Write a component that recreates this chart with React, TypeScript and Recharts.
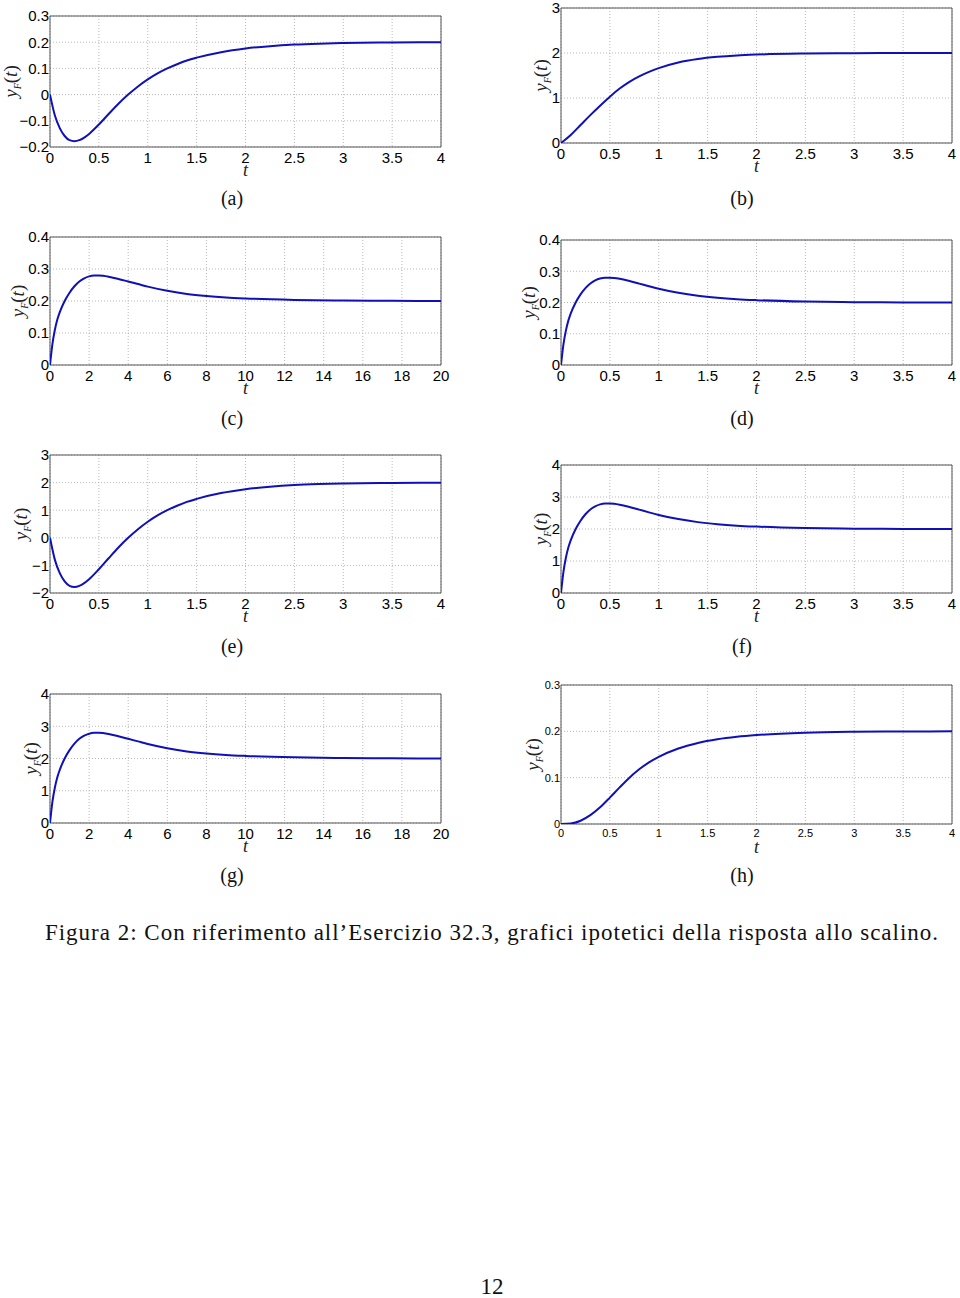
import React from "react"
import { LineChart, Line, XAxis, YAxis, CartesianGrid, ReferenceArea } from "recharts"

// time samples + read-off values for each panel
const tFast = [0, 0.05, 0.1, 0.15, 0.2, 0.25, 0.3, 0.35, 0.4, 0.5, 0.6, 0.7, 0.8, 0.9, 1, 1.1, 1.2, 1.3, 1.4, 1.5, 1.75, 2, 2.25, 2.5, 2.75, 3, 3.5, 4]
const yA = [0, -0.08, -0.128, -0.158, -0.174, -0.178, -0.174, -0.164, -0.15, -0.114, -0.074, -0.035, 0.0, 0.031, 0.058, 0.081, 0.1, 0.116, 0.13, 0.141, 0.162, 0.176, 0.185, 0.191, 0.1945, 0.1966, 0.1988, 0.1996]
const yE = [0, -0.8, -1.28, -1.58, -1.74, -1.78, -1.74, -1.64, -1.5, -1.14, -0.74, -0.35, 0.0, 0.31, 0.58, 0.81, 1.0, 1.16, 1.3, 1.41, 1.62, 1.76, 1.85, 1.91, 1.945, 1.966, 1.988, 1.996]

const tSlow = [0, 0.1, 0.2, 0.3, 0.4, 0.5, 0.6, 0.7, 0.8, 0.9, 1, 1.2, 1.4, 1.6, 1.8, 2, 2.5, 3, 3.5, 4]
const yB = [0, 0.18, 0.4, 0.62, 0.83, 1.03, 1.21, 1.36, 1.48, 1.58, 1.665, 1.79, 1.867, 1.915, 1.946, 1.965, 1.988, 1.996, 1.999, 2.0]
const yH = [0, 0.001, 0.007, 0.019, 0.036, 0.057, 0.079, 0.1, 0.118, 0.133, 0.145, 0.163, 0.175, 0.183, 0.1883, 0.192, 0.197, 0.199, 0.1997, 0.2]

const tPeak = [0, 0.025, 0.05, 0.075, 0.1, 0.15, 0.2, 0.25, 0.3, 0.35, 0.4, 0.45, 0.5, 0.6, 0.7, 0.8, 0.9, 1, 1.2, 1.4, 1.6, 1.8, 2, 2.5, 3, 3.5, 4]
const yD = [0, 0.066, 0.11, 0.142, 0.165, 0.2, 0.226, 0.246, 0.261, 0.271, 0.277, 0.2795, 0.2795, 0.276, 0.269, 0.2605, 0.252, 0.244, 0.231, 0.2215, 0.215, 0.2105, 0.2075, 0.203, 0.201, 0.2003, 0.2]
const yF = [0, 0.66, 1.1, 1.42, 1.65, 2.0, 2.26, 2.46, 2.61, 2.71, 2.77, 2.795, 2.795, 2.76, 2.69, 2.605, 2.52, 2.44, 2.31, 2.215, 2.15, 2.105, 2.075, 2.03, 2.01, 2.003, 2.0]

const tLong = [0, 0.125, 0.25, 0.375, 0.5, 0.75, 1, 1.25, 1.5, 1.75, 2, 2.25, 2.5, 3, 3.5, 4, 4.5, 5, 6, 7, 8, 9, 10, 12.5, 15, 17.5, 20]
const yC = [0, 0.066, 0.11, 0.142, 0.165, 0.2, 0.226, 0.246, 0.261, 0.271, 0.277, 0.2795, 0.2795, 0.276, 0.269, 0.261, 0.253, 0.245, 0.232, 0.222, 0.2155, 0.211, 0.208, 0.2035, 0.2012, 0.2004, 0.2]
const yG = [0, 0.66, 1.1, 1.42, 1.65, 2.0, 2.26, 2.46, 2.61, 2.71, 2.77, 2.795, 2.795, 2.76, 2.69, 2.61, 2.53, 2.45, 2.32, 2.22, 2.155, 2.11, 2.08, 2.035, 2.012, 2.004, 2.0]

const xTicks4 = [0, 0.5, 1, 1.5, 2, 2.5, 3, 3.5, 4]
const xTicks20 = [0, 2, 4, 6, 8, 10, 12, 14, 16, 18, 20]
const yTicksA = [-0.2, -0.1, 0, 0.1, 0.2, 0.3]
const yTicksB = [0, 1, 2, 3]
const yTicksC = [0, 0.1, 0.2, 0.3, 0.4]
const yTicksE = [-2, -1, 0, 1, 2, 3]
const yTicksF = [0, 1, 2, 3, 4]
const yTicksH = [0, 0.1, 0.2, 0.3]

const zip = (t: number[], y: number[]) => t.map((v, i) => ({ t: v, y: y[i] }))

const SANS = "'Liberation Sans', Arial, sans-serif"
const SERIF = "'Liberation Serif', 'DejaVu Serif', serif"
const BLUE = "#1010b8"

const fmt = (v: number) => (v < 0 ? "\u2212" + Math.abs(v) : String(v))

const panels = [
  { id: "a", data: zip(tFast, yA), xTicks: xTicks4, yTicks: yTicksA, left: 50, top: 16, w: 391, h: 131, lab: 40, fs: 15 },
  { id: "b", data: zip(tSlow, yB), xTicks: xTicks4, yTicks: yTicksB, left: 561, top: 8, w: 391, h: 135, lab: 21, fs: 15 },
  { id: "c", data: zip(tLong, yC), xTicks: xTicks20, yTicks: yTicksC, left: 50, top: 237, w: 391, h: 128, lab: 33, fs: 15 },
  { id: "d", data: zip(tPeak, yD), xTicks: xTicks4, yTicks: yTicksC, left: 561, top: 240, w: 391, h: 125, lab: 33, fs: 15 },
  { id: "e", data: zip(tFast, yE), xTicks: xTicks4, yTicks: yTicksE, left: 50, top: 455, w: 391, h: 138, lab: 30, fs: 15 },
  { id: "f", data: zip(tPeak, yF), xTicks: xTicks4, yTicks: yTicksF, left: 561, top: 465, w: 391, h: 128, lab: 21, fs: 15 },
  { id: "g", data: zip(tLong, yG), xTicks: xTicks20, yTicks: yTicksF, left: 50, top: 694, w: 391, h: 129, lab: 20, fs: 15 },
  { id: "h", data: zip(tSlow, yH), xTicks: xTicks4, yTicks: yTicksH, left: 561, top: 685, w: 391, h: 139, lab: 29, fs: 11 },
]

const captionRows = [198, 418, 646, 875]

function YLab({ viewBox, off }: any) {
  const cx = viewBox.x + viewBox.width - off
  const cy = viewBox.y + viewBox.height / 2
  return (
    <text transform={`translate(${cx},${cy}) rotate(-90)`} textAnchor="middle" dy="0.35em"
      fontFamily={SERIF} fontSize={19} fill="#222">
      <tspan fontStyle="italic">y</tspan>
      <tspan fontStyle="italic" fontSize={10} dy={4}>F</tspan>
      <tspan dy={-4}>(</tspan>
      <tspan fontStyle="italic">t</tspan>
      <tspan>)</tspan>
    </text>
  )
}

function XLab({ viewBox }: any) {
  return (
    <text x={viewBox.x + viewBox.width / 2} y={viewBox.y + 29} textAnchor="middle"
      fontFamily={SERIF} fontStyle="italic" fontSize={18} fill="#222">t</text>
  )
}

function Panel({ p }: { p: (typeof panels)[number] }) {
  const xMax = p.xTicks[p.xTicks.length - 1]
  const yMin = p.yTicks[0]
  const yMax = p.yTicks[p.yTicks.length - 1]
  const tick = { fill: "#000", fontSize: p.fs, fontFamily: SANS }
  return (
    <div style={{ position: "absolute", left: p.left - 60, top: p.top - 10 }}>
      <LineChart width={p.w + 80} height={p.h + 50} data={p.data}
        margin={{ top: 10, right: 20, left: 0, bottom: 0 }}>
        <CartesianGrid stroke="#b8b8b8" strokeDasharray="1 2" />
        <XAxis dataKey="t" type="number" domain={[0, xMax]} ticks={p.xTicks} interval={0}
          height={40} tickLine={false} tickSize={0} tickMargin={5} axisLine={false}
          tick={tick} allowDataOverflow label={(props: any) => <XLab {...props} />} />
        <YAxis type="number" domain={[yMin, yMax]} ticks={p.yTicks} interval={0}
          width={60} tickLine={false} tickSize={0} tickMargin={1} axisLine={false}
          tick={tick} tickFormatter={fmt} allowDataOverflow
          label={(props: any) => <YLab {...props} off={p.lab} />} />
        <Line type="monotone" dataKey="y" stroke={BLUE} strokeWidth={2} dot={false}
          isAnimationActive={false} />
        <ReferenceArea x1={0} x2={xMax} y1={yMin} y2={yMax} fill="none" stroke="#555"
          strokeWidth={1} />
      </LineChart>
    </div>
  )
}

export default function App() {
  return (
    <div style={{ position: "absolute", left: 0, top: 0, width: 960, height: 1298,
      background: "#fff", overflow: "hidden" }}>
      {panels.map((p) => <Panel key={p.id} p={p} />)}
      {panels.map((p, i) => (
        <div key={"cap" + p.id} style={{ position: "absolute", left: i % 2 === 0 ? 232 : 742,
          top: captionRows[Math.floor(i / 2)], transform: "translate(-50%, -50%)",
          fontFamily: SERIF, fontSize: 20, lineHeight: "22px", color: "#111" }}>
          ({p.id})
        </div>
      ))}
      <div style={{ position: "absolute", left: 0, width: 984, top: 933, transform: "translateY(-50%)",
        textAlign: "center", fontFamily: SERIF, fontSize: 23, letterSpacing: 1, lineHeight: "26px",
        color: "#111", whiteSpace: "nowrap" }}>
        Figura 2: Con riferimento all’Esercizio 32.3, grafici ipotetici della risposta allo scalino.
      </div>
      <div style={{ position: "absolute", left: 0, width: 984, top: 1287, transform: "translateY(-50%)",
        textAlign: "center", fontFamily: SERIF, fontSize: 23, lineHeight: "26px", color: "#111" }}>
        12
      </div>
    </div>
  )
}
